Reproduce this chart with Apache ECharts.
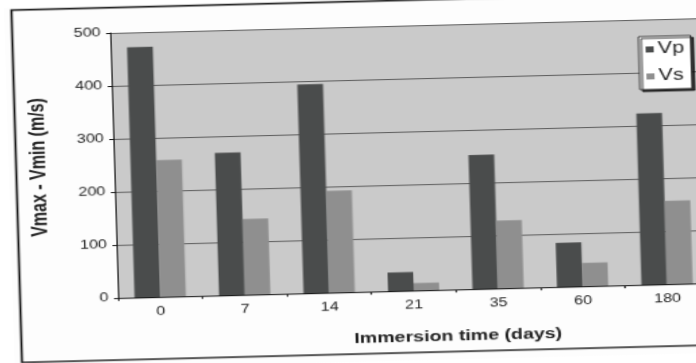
<!DOCTYPE html>
<html>
<head>
<meta charset="utf-8">
<script src="https://cdn.jsdelivr.net/npm/echarts@6/dist/echarts.min.js"></script>
<style>
  html, body { margin: 0; padding: 0; background: #ffffff; overflow: hidden; width: 696px; height: 363px; }
  /* The printed figure sits slightly tilted and widened on the page */
  #chart {
    position: absolute; left: 0; top: 0;
    width: 520px; height: 363px;
    transform-origin: 0 0;
    transform: matrix(1.35, -0.034, 0.03, 1.0, 3.9, 7.65);
  }
</style>
</head>
<body>
<div id="chart"></div>
<script>
// Immersion time in days (category axis)
const days = ['0', '7', '14', '21', '35', '60', '180'];
// Velocity spread Vmax - Vmin in m/s
const vpSpread = [472, 269, 394, 35, 253, 83, 323];
const vsSpread = [258, 143, 192, 14, 128, 44, 157];
// Value axis range and step
const yMin = 0, yMax = 500, yStep = 100;

const chart = echarts.init(document.getElementById('chart'), null, { renderer: 'canvas' });
const font = 'Liberation Sans, Arial, sans-serif';

chart.setOption({
  animation: false,
  backgroundColor: '#fdfdfd',
  grid: {
    left: 78, right: 4, top: 28, bottom: 70,
    show: true, backgroundColor: '#cacaca', borderWidth: 0
  },
  legend: {
    data: ['Vp', 'Vs'],
    orient: 'vertical',
    left: 469, top: 45,
    backgroundColor: '#ffffff',
    borderColor: '#333333', borderWidth: 1,
    padding: [5, 5, 5, 5],
    itemWidth: 6, itemHeight: 6, itemGap: 11,
    shadowColor: 'rgba(0,0,0,0.75)', shadowOffsetX: 2, shadowOffsetY: 2, shadowBlur: 0,
    textStyle: { fontFamily: font, fontSize: 16, color: '#222', padding: [0, 0, 0, -2] },
    icon: 'rect'
  },
  xAxis: {
    type: 'category',
    data: days,
    axisLine: { lineStyle: { color: '#111', width: 1 } },
    axisTick: { show: true, length: 3, lineStyle: { color: '#111' } },
    axisLabel: { fontFamily: font, fontSize: 12, color: '#222', margin: 9 }
  },
  yAxis: {
    type: 'value',
    min: yMin, max: yMax, interval: yStep,
    name: 'Vmax - Vmin (m/s)',
    nameLocation: 'middle',
    nameGap: 47,
    nameTextStyle: { fontFamily: font, fontSize: 16, fontWeight: 'bold', color: '#222' },
    axisLine: { show: true, lineStyle: { color: '#111', width: 1 } },
    axisTick: { show: true, length: 3, lineStyle: { color: '#111' } },
    axisLabel: { fontFamily: font, fontSize: 12, color: '#222', margin: 7 },
    splitLine: { show: true, lineStyle: { color: '#5a5a5a', width: 1 } }
  },
  series: [
    {
      name: 'Vp', type: 'bar', data: vpSpread,
      barWidth: 19, barGap: '0%',
      itemStyle: { color: '#4a4c4c' }
    },
    {
      name: 'Vs', type: 'bar', data: vsSpread,
      barWidth: 19,
      itemStyle: { color: '#8f8f8f' }
    }
  ],
  graphic: [
    {
      type: 'rect',
      shape: { x: 5.5, y: 2.6, width: 600, height: 352.4 },
      style: { fill: 'none', stroke: '#1c1c1c', lineWidth: 1.6 },
      silent: true, z: 100
    },
    {
      type: 'text',
      x: 329, y: 339.6,
      style: {
        text: 'Immersion time (days)',
        font: 'bold 14.5px ' + font,
        fill: '#222',
        align: 'center',
        verticalAlign: 'middle'
      },
      silent: true
    }
  ]
});
</script>
</body>
</html>
